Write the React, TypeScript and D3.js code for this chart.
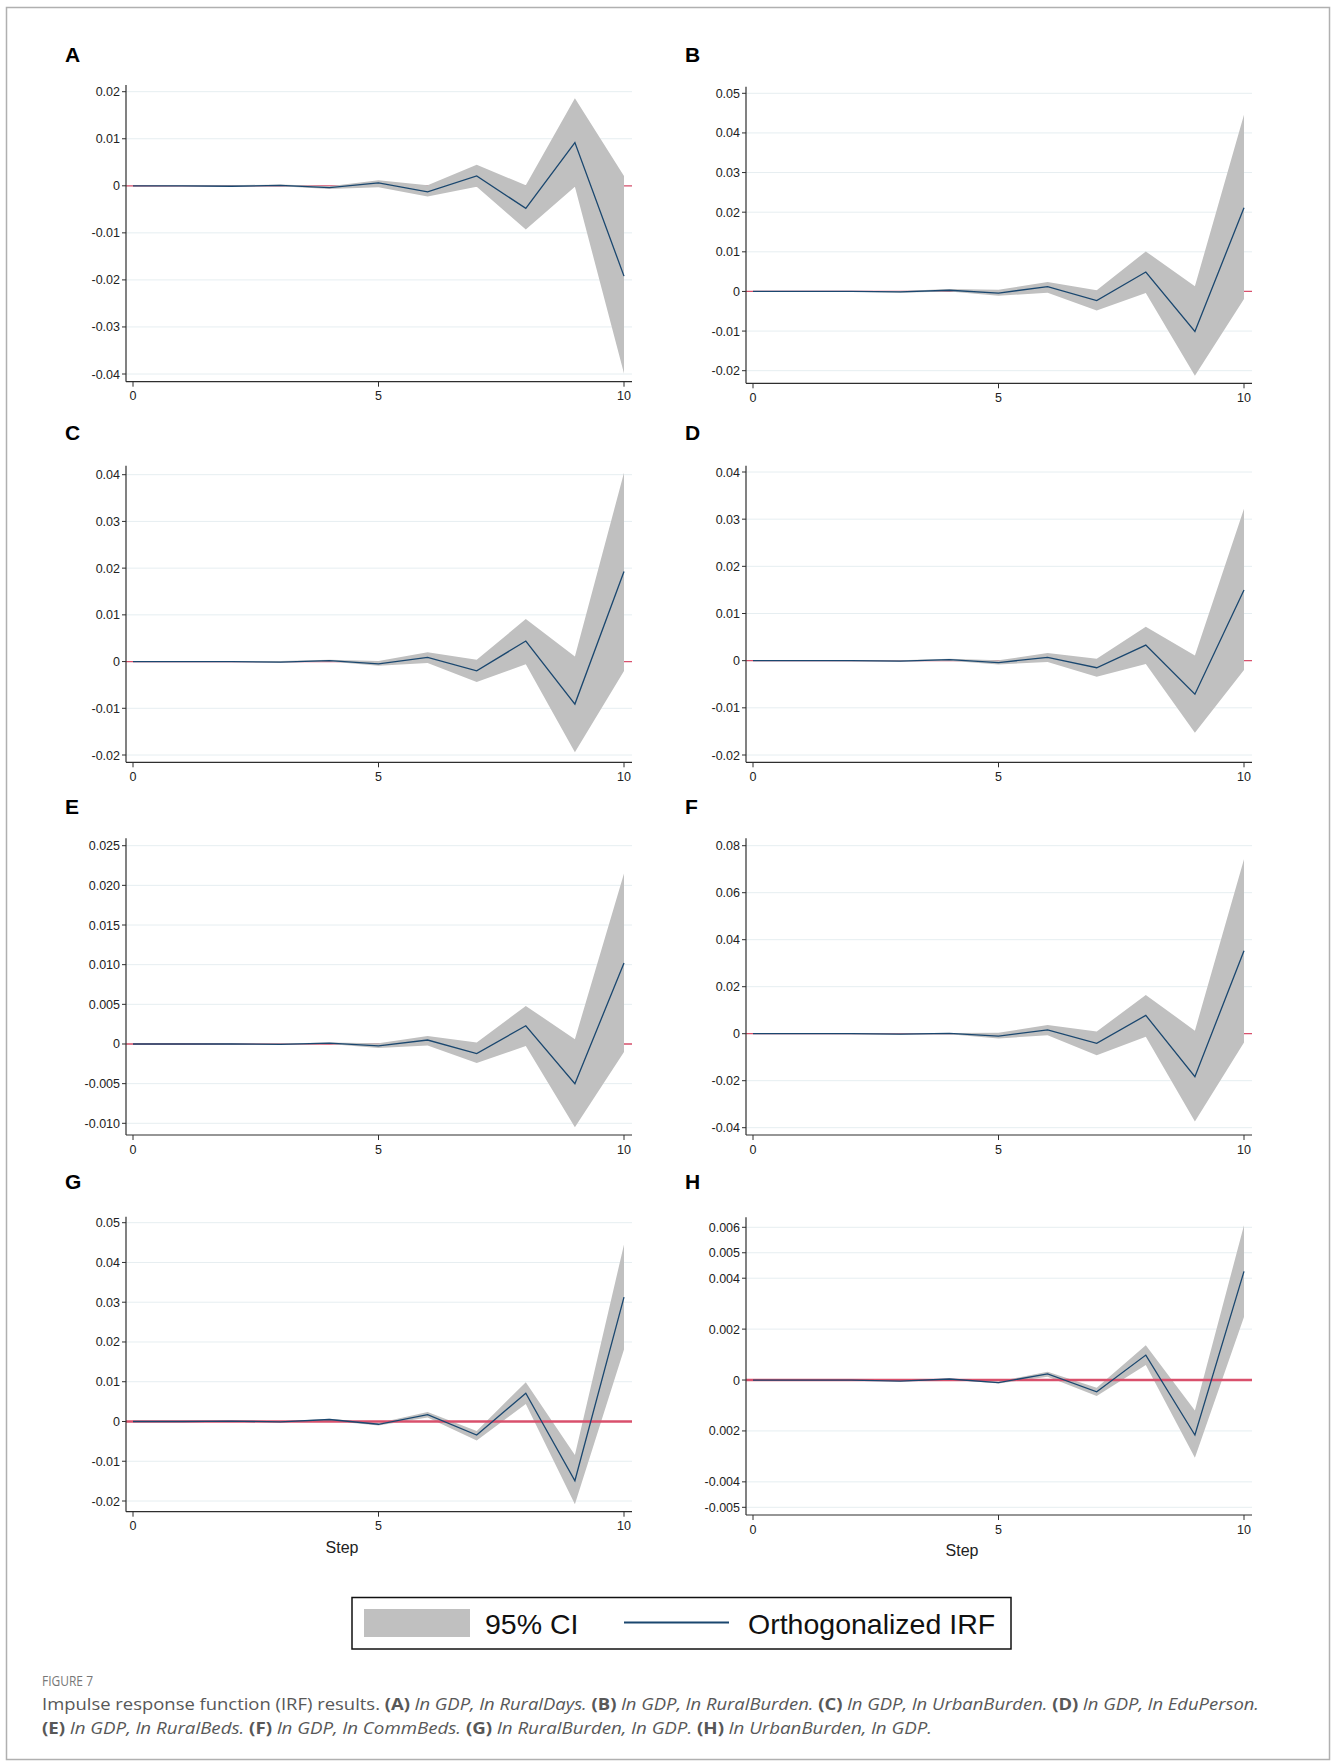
import React from "react";
import * as d3 from "d3";

// ---- Data ----
const steps = [0, 1, 2, 3, 4, 5, 6, 7, 8, 9, 10];

const irfA = [0, 0, -0.0001, 0.0001, -0.0004, 0.0006, -0.0013, 0.0021, -0.0048, 0.0092, -0.0192];
const loA = [0, -0.0001, -0.0002, -0.0001, -0.0007, -0.0003, -0.0023, -0.0002, -0.0093, -0.0002, -0.0399];
const hiA = [0, 0.0001, 0.0001, 0.0003, -0.0001, 0.0012, 0.0001, 0.0045, 0.0001, 0.0186, 0.0021];

const irfB = [0, 0, 0, -0.0001, 0.0003, -0.0004, 0.0012, -0.0023, 0.0049, -0.0101, 0.0211];
const loB = [0, 0, -0.0001, -0.0003, 0, -0.0011, -0.0003, -0.0048, -0.0004, -0.0213, -0.0019];
const hiB = [0, 0, 0.0001, 0.0001, 0.0006, 0.0004, 0.0024, 0.0003, 0.0101, 0.0013, 0.0446];

const irfC = [0, 0, 0, -0.0001, 0.0002, -0.0005, 0.0009, -0.002, 0.0044, -0.0091, 0.0193];
const loC = [0, 0, -0.0001, -0.0002, 0, -0.0009, -0.0003, -0.0044, -0.0006, -0.0194, -0.002];
const hiC = [0, 0, 0.0001, 0.0001, 0.0004, 0.0001, 0.002, 0.0004, 0.0091, 0.0011, 0.0404];

const irfD = [0, 0, 0, -0.0001, 0.0002, -0.0004, 0.0007, -0.0015, 0.0033, -0.0071, 0.015];
const loD = [0, 0, -0.0001, -0.0002, 0, -0.0008, -0.0003, -0.0034, -0.0007, -0.0153, -0.002];
const hiD = [0, 0, 0.0001, 0.0001, 0.0004, 0.0001, 0.0016, 0.0004, 0.0072, 0.0011, 0.0322];

const irfE = [0, 0, 0, -0.00005, 0.0001, -0.00025, 0.0005, -0.0012, 0.0023, -0.005, 0.0102];
const loE = [0, 0, -0.00005, -0.0001, 0, -0.0005, -0.0002, -0.0024, -0.00025, -0.0105, -0.001];
const hiE = [0, 0, 0.00005, 0.00005, 0.0002, 0.0001, 0.001, 0.0002, 0.0048, 0.0006, 0.0215];

const irfF = [0, 0, 0, -0.0002, 0.0001, -0.001, 0.0016, -0.0041, 0.0078, -0.0183, 0.0353];
const loF = [0, 0, -0.0002, -0.0004, -0.0002, -0.002, -0.0007, -0.0092, -0.0013, -0.0374, -0.0037];
const hiF = [0, 0, 0.0002, 0.0001, 0.0003, 0.0004, 0.0037, 0.0009, 0.0165, 0.0013, 0.0742];

const irfG = [0, 0, 0.0001, -0.0001, 0.0005, -0.0007, 0.0017, -0.0034, 0.0071, -0.0149, 0.0313];
const loG = [0, 0, 0, -0.0002, 0.0002, -0.001, 0.001, -0.0048, 0.0044, -0.0208, 0.0181];
const hiG = [0, 0, 0.0002, 0, 0.0007, -0.0004, 0.0024, -0.0024, 0.0099, -0.0084, 0.0445];

const irfH = [0, 0, 0, -0.00004, 0.00004, -0.0001, 0.00024, -0.00046, 0.00098, -0.00216, 0.00427];
const loH = [0, 0, -0.00001, -0.00006, 0.00002, -0.00014, 0.00013, -0.00063, 0.00059, -0.00305, 0.00248];
const hiH = [0, 0, 0.00001, -0.00002, 0.00006, -0.00006, 0.00033, -0.0003, 0.00137, -0.0012, 0.00608];

const xTicks = [0, 5, 10];

const ticksA = [0.02, 0.01, 0, -0.01, -0.02, -0.03, -0.04];
const tickLabelsA = ["0.02", "0.01", "0", "-0.01", "-0.02", "-0.03", "-0.04"];
const ticksB = [0.05, 0.04, 0.03, 0.02, 0.01, 0, -0.01, -0.02];
const tickLabelsB = ["0.05", "0.04", "0.03", "0.02", "0.01", "0", "-0.01", "-0.02"];
const ticksC = [0.04, 0.03, 0.02, 0.01, 0, -0.01, -0.02];
const tickLabelsC = ["0.04", "0.03", "0.02", "0.01", "0", "-0.01", "-0.02"];
const ticksD = [0.04, 0.03, 0.02, 0.01, 0, -0.01, -0.02];
const tickLabelsD = ["0.04", "0.03", "0.02", "0.01", "0", "-0.01", "-0.02"];
const ticksE = [0.025, 0.02, 0.015, 0.01, 0.005, 0, -0.005, -0.01];
const tickLabelsE = ["0.025", "0.020", "0.015", "0.010", "0.005", "0", "-0.005", "-0.010"];
const ticksF = [0.08, 0.06, 0.04, 0.02, 0, -0.02, -0.04];
const tickLabelsF = ["0.08", "0.06", "0.04", "0.02", "0", "-0.02", "-0.04"];
const ticksG = [0.05, 0.04, 0.03, 0.02, 0.01, 0, -0.01, -0.02];
const tickLabelsG = ["0.05", "0.04", "0.03", "0.02", "0.01", "0", "-0.01", "-0.02"];
const ticksH = [0.006, 0.005, 0.004, 0.002, 0, -0.002, -0.004, -0.005];
const tickLabelsH = ["0.006", "0.005", "0.004", "0.002", "0", "0.002", "-0.004", "-0.005"];

const legendLabels = ["95% CI", "Orthogonalized IRF"];
const xAxisTitle = "Step";

// ---- Layout (positions only) ----
const layoutA = { col: 0, axisTop: 85, topTickY: 91.7, bottomTickY: 374, xAxisY: 381.7, letterY: 62 };
const layoutB = { col: 1, axisTop: 86.7, topTickY: 93.3, bottomTickY: 370.7, xAxisY: 383.3, letterY: 62 };
const layoutC = { col: 0, axisTop: 465.7, topTickY: 474.7, bottomTickY: 755, xAxisY: 762.3, letterY: 440 };
const layoutD = { col: 1, axisTop: 465.7, topTickY: 472, bottomTickY: 755, xAxisY: 762.3, letterY: 440 };
const layoutE = { col: 0, axisTop: 838.3, topTickY: 845.7, bottomTickY: 1123.3, xAxisY: 1135, letterY: 814 };
const layoutF = { col: 1, axisTop: 838.3, topTickY: 845.7, bottomTickY: 1127.7, xAxisY: 1135, letterY: 814 };
const layoutG = { col: 0, axisTop: 1216.7, topTickY: 1222.7, bottomTickY: 1501, xAxisY: 1511.7, letterY: 1189 };
const layoutH = { col: 1, axisTop: 1217.3, topTickY: 1227.3, bottomTickY: 1507.3, xAxisY: 1515, letterY: 1189 };

const panels = [
  { id: "A", irf: irfA, lo: loA, hi: hiA, ticks: ticksA, labels: tickLabelsA, zeroOnTop: false, step: false, ...layoutA },
  { id: "B", irf: irfB, lo: loB, hi: hiB, ticks: ticksB, labels: tickLabelsB, zeroOnTop: false, step: false, ...layoutB },
  { id: "C", irf: irfC, lo: loC, hi: hiC, ticks: ticksC, labels: tickLabelsC, zeroOnTop: false, step: false, ...layoutC },
  { id: "D", irf: irfD, lo: loD, hi: hiD, ticks: ticksD, labels: tickLabelsD, zeroOnTop: false, step: false, ...layoutD },
  { id: "E", irf: irfE, lo: loE, hi: hiE, ticks: ticksE, labels: tickLabelsE, zeroOnTop: false, step: false, ...layoutE },
  { id: "F", irf: irfF, lo: loF, hi: hiF, ticks: ticksF, labels: tickLabelsF, zeroOnTop: false, step: false, ...layoutF },
  { id: "G", irf: irfG, lo: loG, hi: hiG, ticks: ticksG, labels: tickLabelsG, zeroOnTop: true, step: true, ...layoutG },
  { id: "H", irf: irfH, lo: loH, hi: hiH, ticks: ticksH, labels: tickLabelsH, zeroOnTop: true, step: true, ...layoutH },
];

const W = 1332;
const H = 1762;
const COL_X = [126, 746];
const PLOT_W = 506;
const X_PAD_L = 7;
const X_PAD_R = 8;

const BAND = "#c0c0c0";
const IRF = "#1a476f";
const ZERO = "#d9506c";
const GRID = "#e6eef1";
const AXIS = "#2e2e2e";
const FONT = "'Liberation Sans', Arial, Helvetica, sans-serif";
const CAP_FONT = "'Open Sans', 'Noto Sans', sans-serif";
const CAP_COLOR = "#585858";

function Panel({ p }: { p: any }) {
  const ax = COL_X[p.col];
  const right = ax + PLOT_W;
  const x = d3.scaleLinear().domain([0, 10]).range([ax + X_PAD_L, right - X_PAD_R]);
  const y = d3
    .scaleLinear()
    .domain([d3.min(p.ticks as number[])!, d3.max(p.ticks as number[])!])
    .range([p.bottomTickY, p.topTickY]);
  const rows = steps.map((s, i) => ({ s, v: p.irf[i], lo: p.lo[i], hi: p.hi[i] }));
  const area = d3
    .area<any>()
    .x((d) => x(d.s))
    .y0((d) => y(d.lo))
    .y1((d) => y(d.hi));
  const line = d3
    .line<any>()
    .x((d) => x(d.s))
    .y((d) => y(d.v));
  const zeroLine = (
    <line
      x1={ax}
      x2={right}
      y1={y(0)}
      y2={y(0)}
      stroke={ZERO}
      strokeWidth={p.zeroOnTop ? 2.4 : 1.3}
    />
  );
  return (
    <g>
      <text x={ax - 61} y={p.letterY} fontFamily={FONT} fontWeight="bold" fontSize={21} fill="#000">
        {p.id}
      </text>
      {p.ticks.map((t: number, i: number) => (
        <line key={"g" + i} x1={ax} x2={right} y1={y(t)} y2={y(t)} stroke={GRID} strokeWidth={1} />
      ))}
      {!p.zeroOnTop && zeroLine}
      <path d={area(rows)!} fill={BAND} stroke="none" />
      {p.zeroOnTop && zeroLine}
      <path d={line(rows)!} fill="none" stroke={IRF} strokeWidth={1.3} />
      {/* y axis */}
      <line x1={ax} x2={ax} y1={p.axisTop} y2={p.xAxisY} stroke={AXIS} strokeWidth={1.2} />
      {p.ticks.map((t: number, i: number) => (
        <g key={"t" + i}>
          <line x1={ax - 4} x2={ax} y1={y(t)} y2={y(t)} stroke={AXIS} strokeWidth={1} />
          <text
            x={ax - 6}
            y={y(t) + 4.5}
            textAnchor="end"
            fontFamily={FONT}
            fontSize={12.5}
            fill="#222"
          >
            {p.labels[i]}
          </text>
        </g>
      ))}
      {/* x axis */}
      <line x1={ax} x2={right} y1={p.xAxisY} y2={p.xAxisY} stroke={AXIS} strokeWidth={1.2} />
      {xTicks.map((t) => (
        <g key={"x" + t}>
          <line x1={x(t)} x2={x(t)} y1={p.xAxisY} y2={p.xAxisY + 5} stroke={AXIS} strokeWidth={1} />
          <text x={x(t)} y={p.xAxisY + 18.5} textAnchor="middle" fontFamily={FONT} fontSize={12.5} fill="#222">
            {t}
          </text>
        </g>
      ))}
      {p.step && (
        <text x={ax + 216} y={p.xAxisY + 41} textAnchor="middle" fontFamily={FONT} fontSize={16} fill="#222">
          {xAxisTitle}
        </text>
      )}
    </g>
  );
}

export default function App() {
  return (
    <svg
      width={W}
      height={H}
      viewBox={`0 0 ${W} ${H}`}
      style={{ position: "absolute", left: 0, top: 0, background: "#fff" }}
    >
      <rect x={0} y={0} width={W} height={H} fill="#fff" />
      <rect x={6.5} y={7.5} width={1323} height={1752} fill="none" stroke="#b0b0b0" strokeWidth={1.5} />
      {panels.map((p) => (
        <Panel key={p.id} p={p} />
      ))}
      {/* legend */}
      <g>
        <rect x={352} y={1597.5} width={659} height={51.5} fill="#fff" stroke="#111" strokeWidth={1.5} />
        <rect x={364} y={1609} width={106} height={28} fill={BAND} />
        <text x={485} y={1634} fontFamily={FONT} fontSize={28.5} fill="#111">
          {legendLabels[0]}
        </text>
        <line x1={624} x2={729} y1={1622.5} y2={1622.5} stroke={IRF} strokeWidth={2} />
        <text x={748} y={1634} fontFamily={FONT} fontSize={28.5} fill="#111">
          {legendLabels[1]}
        </text>
      </g>
      {/* caption */}
      <text x={42} y={1686} fontFamily={CAP_FONT} fontSize={14} fill="#777" textLength={51} lengthAdjust="spacingAndGlyphs">
        FIGURE 7
      </text>
      <text
        x={42}
        y={1710}
        fontFamily={CAP_FONT}
        fontSize={16.5}
        fill={CAP_COLOR}
        textLength={1217}
        lengthAdjust="spacingAndGlyphs"
      >
        <tspan>Impulse response function (IRF) results. </tspan>
        <tspan fontWeight="bold">(A)</tspan>
        <tspan fontStyle="italic"> ln GDP, ln RuralDays.</tspan>
        <tspan> </tspan>
        <tspan fontWeight="bold">(B)</tspan>
        <tspan fontStyle="italic"> ln GDP, ln RuralBurden.</tspan>
        <tspan> </tspan>
        <tspan fontWeight="bold">(C)</tspan>
        <tspan fontStyle="italic"> ln GDP, ln UrbanBurden.</tspan>
        <tspan> </tspan>
        <tspan fontWeight="bold">(D)</tspan>
        <tspan fontStyle="italic"> ln GDP, ln EduPerson.</tspan>
      </text>
      <text
        x={42}
        y={1734}
        fontFamily={CAP_FONT}
        fontSize={16.5}
        fill={CAP_COLOR}
        textLength={890}
        lengthAdjust="spacingAndGlyphs"
      >
        <tspan fontWeight="bold">(E)</tspan>
        <tspan fontStyle="italic"> ln GDP, ln RuralBeds.</tspan>
        <tspan> </tspan>
        <tspan fontWeight="bold">(F)</tspan>
        <tspan fontStyle="italic"> ln GDP, ln CommBeds.</tspan>
        <tspan> </tspan>
        <tspan fontWeight="bold">(G)</tspan>
        <tspan fontStyle="italic"> ln RuralBurden, ln GDP.</tspan>
        <tspan> </tspan>
        <tspan fontWeight="bold">(H)</tspan>
        <tspan fontStyle="italic"> ln UrbanBurden, ln GDP.</tspan>
      </text>
    </svg>
  );
}
